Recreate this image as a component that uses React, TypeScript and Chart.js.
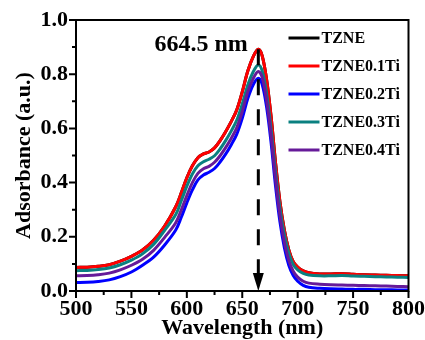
import React, { useEffect, useRef } from 'react';
import { Chart, registerables } from 'chart.js';

Chart.register(...registerables);

// ---- data ----
const wavelengths = [
  500, 510, 520, 530, 540, 550, 560, 570, 580, 590,
  595, 600, 605, 610, 615, 620, 625, 630, 635, 640, 645, 650, 655, 660,
  664.5, 668, 672, 676, 680, 684, 688, 692, 696, 700,
  705, 710, 720, 730, 740, 750, 760, 770, 780, 790, 800,
];

const tzne = [
  0.087, 0.088, 0.091, 0.097, 0.110, 0.128, 0.151, 0.187, 0.240, 0.311,
  0.362, 0.418, 0.462, 0.492, 0.506, 0.513, 0.528, 0.555, 0.588, 0.625, 0.668, 0.735, 0.812, 0.866,
  0.892, 0.868, 0.780, 0.645, 0.475, 0.330, 0.225, 0.152, 0.108, 0.088,
  0.074, 0.067, 0.063, 0.063, 0.064, 0.062, 0.060, 0.059, 0.058, 0.057, 0.056,
];

const tzne01Ti = [
  0.087, 0.088, 0.091, 0.097, 0.110, 0.128, 0.151, 0.187, 0.240, 0.311,
  0.362, 0.418, 0.462, 0.492, 0.506, 0.513, 0.528, 0.555, 0.588, 0.625, 0.668, 0.735, 0.812, 0.866,
  0.892, 0.868, 0.780, 0.645, 0.475, 0.330, 0.225, 0.152, 0.108, 0.088,
  0.074, 0.067, 0.063, 0.063, 0.064, 0.062, 0.060, 0.059, 0.058, 0.057, 0.056,
];

const tzne02Ti = [
  0.031, 0.032, 0.035, 0.041, 0.053, 0.070, 0.095, 0.125, 0.170, 0.225,
  0.272, 0.325, 0.373, 0.410, 0.428, 0.438, 0.452, 0.476, 0.505, 0.539, 0.578, 0.637, 0.710, 0.762,
  0.785, 0.762, 0.678, 0.548, 0.388, 0.255, 0.160, 0.095, 0.057, 0.036,
  0.021, 0.014, 0.010, 0.008, 0.007, 0.006, 0.006, 0.005, 0.005, 0.004, 0.004,
];

const tzne03Ti = [
  0.075, 0.076, 0.079, 0.085, 0.097, 0.114, 0.137, 0.172, 0.224, 0.282,
  0.333, 0.387, 0.432, 0.462, 0.477, 0.486, 0.499, 0.524, 0.555, 0.590, 0.630, 0.690, 0.760, 0.810,
  0.834, 0.812, 0.728, 0.598, 0.440, 0.305, 0.207, 0.140, 0.098, 0.078,
  0.065, 0.059, 0.056, 0.056, 0.057, 0.055, 0.054, 0.053, 0.052, 0.051, 0.050,
];

const tzne04Ti = [
  0.056, 0.057, 0.060, 0.066, 0.078, 0.095, 0.117, 0.150, 0.198, 0.252,
  0.299, 0.352, 0.400, 0.434, 0.451, 0.460, 0.475, 0.499, 0.529, 0.563, 0.602, 0.662, 0.735, 0.785,
  0.810, 0.788, 0.703, 0.573, 0.412, 0.278, 0.180, 0.113, 0.073, 0.051,
  0.036, 0.029, 0.025, 0.023, 0.022, 0.021, 0.020, 0.019, 0.018, 0.017, 0.016,
];

const seriesNames = ['TZNE', 'TZNE0.1Ti', 'TZNE0.2Ti', 'TZNE0.3Ti', 'TZNE0.4Ti'];
const seriesValues = [tzne, tzne01Ti, tzne02Ti, tzne03Ti, tzne04Ti];
const seriesColors = ['#000000', '#ff0000', '#0000ff', '#0a8080', '#661a99'];
const seriesOrder = [5, 4, 3, 2, 1];

const xMajorTicks = [500, 550, 600, 650, 700, 750, 800];
const xMinorTicks = [525, 575, 625, 675, 725, 775];
const yMajorTicks = [0, 0.2, 0.4, 0.6, 0.8, 1.0];
const yMinorTicks = [0.1, 0.3, 0.5, 0.7, 0.9];

const peakWavelength = 664.5;
const peakValue = 0.892;
const peakLabel = '664.5 nm';
const peakLabelX = 655;
const peakLabelY = 0.885;

const xTitle = 'Wavelength (nm)';
const yTitle = 'Adsorbance (a.u.)';

const FONT = '"Liberation Serif", "Times New Roman", serif';

const overlayPlugin = {
  id: 'overlay',
  afterDatasetsDraw(chart: any) {
    const { ctx, chartArea: a, scales } = chart;
    const x = scales.x;
    const y = scales.y;
    ctx.save();

    // dashed arrow at peak
    const ax = x.getPixelForValue(peakWavelength);
    const top = y.getPixelForValue(peakValue);
    const bottom = y.getPixelForValue(0);
    const headLen = 18;
    ctx.strokeStyle = '#000';
    ctx.fillStyle = '#000';
    ctx.lineWidth = 3;
    ctx.setLineDash([16, 14]);
    ctx.beginPath();
    ctx.moveTo(ax, top);
    ctx.lineTo(ax, bottom - headLen);
    ctx.stroke();
    ctx.setLineDash([]);
    ctx.beginPath();
    ctx.moveTo(ax - 5.5, bottom - headLen);
    ctx.lineTo(ax + 5.5, bottom - headLen);
    ctx.lineTo(ax, bottom);
    ctx.closePath();
    ctx.fill();

    // peak label
    ctx.font = `bold 24px ${FONT}`;
    ctx.textAlign = 'right';
    ctx.textBaseline = 'alphabetic';
    ctx.fillText(peakLabel, x.getPixelForValue(peakLabelX), y.getPixelForValue(peakLabelY));

    // frame
    ctx.lineWidth = 2;
    ctx.strokeRect(a.left, a.top, a.right - a.left, a.bottom - a.top);

    // ticks
    ctx.lineWidth = 2;
    ctx.beginPath();
    yMajorTicks.forEach((v) => {
      const p = y.getPixelForValue(v);
      ctx.moveTo(a.left - 7, p);
      ctx.lineTo(a.left, p);
    });
    yMinorTicks.forEach((v) => {
      const p = y.getPixelForValue(v);
      ctx.moveTo(a.left - 4, p);
      ctx.lineTo(a.left, p);
    });
    xMajorTicks.forEach((v) => {
      const p = x.getPixelForValue(v);
      ctx.moveTo(p, a.bottom);
      ctx.lineTo(p, a.bottom + 7);
    });
    xMinorTicks.forEach((v) => {
      const p = x.getPixelForValue(v);
      ctx.moveTo(p, a.bottom);
      ctx.lineTo(p, a.bottom + 4);
    });
    ctx.stroke();

    // legend
    ctx.font = `bold 16px ${FONT}`;
    ctx.textAlign = 'left';
    ctx.textBaseline = 'middle';
    seriesNames.forEach((name, i) => {
      const ly = a.top + 18 + i * 28;
      ctx.strokeStyle = seriesColors[i];
      ctx.lineWidth = 3;
      ctx.beginPath();
      ctx.moveTo(a.right - 120, ly);
      ctx.lineTo(a.right - 89, ly);
      ctx.stroke();
      ctx.fillStyle = '#000';
      ctx.fillText(name, a.right - 87, ly + 1);
    });

    ctx.restore();
  },
};

export default function App() {
  const canvasRef = useRef<HTMLCanvasElement | null>(null);

  useEffect(() => {
    const canvas = canvasRef.current;
    if (!canvas) return;
    const chart = new Chart(canvas, {
      type: 'line',
      data: {
        datasets: seriesNames.map((name, i) => ({
          label: name,
          data: wavelengths.map((w, j) => ({ x: w, y: seriesValues[i][j] })),
          borderColor: seriesColors[i],
          backgroundColor: seriesColors[i],
          borderWidth: 3,
          pointRadius: 0,
          fill: false,
          tension: 0.35,
          order: seriesOrder[i],
        })),
      },
      options: {
        animation: false,
        responsive: false,
        events: [],
        layout: { padding: { top: 20, right: 16, left: 0, bottom: 0 } },
        plugins: {
          legend: { display: false },
          tooltip: { enabled: false },
        },
        scales: {
          x: {
            type: 'linear',
            min: 500,
            max: 800,
            afterFit: (s: any) => {
              s.height = 49;
            },
            afterBuildTicks: (s: any) => {
              s.ticks = xMajorTicks.map((v) => ({ value: v }));
            },
            grid: { display: false, drawTicks: true, tickLength: 7 },
            border: { display: false },
            ticks: {
              color: '#000',
              padding: 0,
              maxRotation: 0,
              autoSkip: false,
              font: { family: FONT, size: 22, weight: 'bold', lineHeight: 1 },
              callback: (v: any) => String(v),
            },
            title: {
              display: true,
              text: xTitle,
              color: '#000',
              padding: { top: 0, bottom: 1 },
              font: { family: FONT, size: 22, weight: 'bold', lineHeight: 1 },
            },
          },
          y: {
            type: 'linear',
            min: 0,
            max: 1,
            afterFit: (s: any) => {
              s.width = 76;
            },
            afterBuildTicks: (s: any) => {
              s.ticks = yMajorTicks.map((v) => ({ value: v }));
            },
            grid: { display: false, drawTicks: true, tickLength: 7 },
            border: { display: false },
            ticks: {
              color: '#000',
              padding: 1,
              autoSkip: false,
              font: { family: FONT, size: 22, weight: 'bold', lineHeight: 1 },
              callback: (v: any) => Number(v).toFixed(1),
            },
            title: {
              display: true,
              text: yTitle,
              color: '#000',
              align: 'center',
              padding: { top: 13, bottom: 0 },
              font: { family: FONT, size: 22, weight: 'bold', lineHeight: 1 },
            },
          },
        },
      },
      plugins: [overlayPlugin],
    });
    return () => {
      chart.destroy();
    };
  }, []);

  return (
    <div style={{ position: 'fixed', left: 0, top: 0, width: 425, height: 340, background: '#fff' }}>
      <canvas ref={canvasRef} width={425} height={340} style={{ display: 'block', width: 425, height: 340 }} />
    </div>
  );
}
